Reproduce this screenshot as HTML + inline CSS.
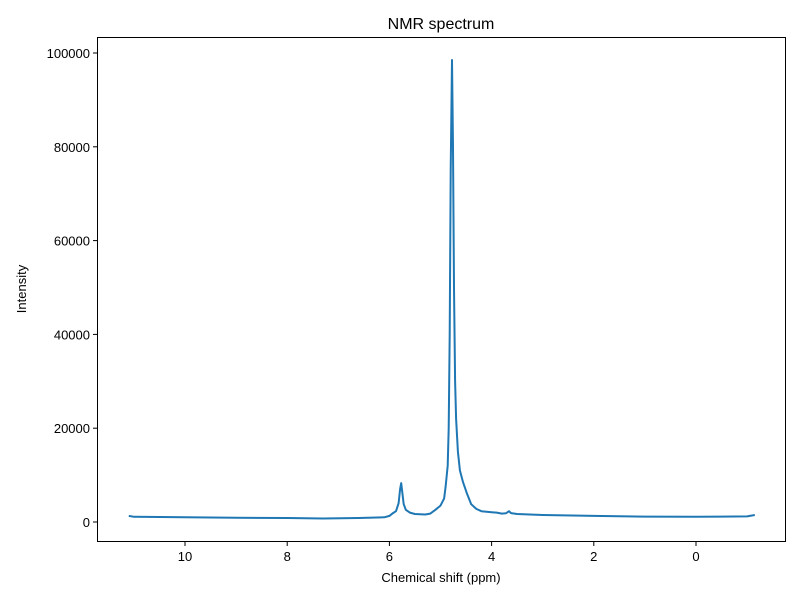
<!DOCTYPE html>
<html><head><meta charset="utf-8"><style>body{margin:0;background:#fff}svg text{font-family:"Liberation Sans","DejaVu Sans",sans-serif;fill:#000}</style></head>
<body>
<svg id="chart" width="800" height="600" xmlns="http://www.w3.org/2000/svg">
<rect width="800" height="600" fill="#fff"/>
<text x="441" y="29" font-size="16" text-anchor="middle">NMR spectrum</text>
<g id="ticks"></g>
<path id="line" fill="none" stroke="#1f77b4" stroke-width="2" stroke-linejoin="round"/>
<rect x="97.5" y="37.5" width="688" height="504" fill="none" stroke="#000" stroke-width="1"/>
<text x="441" y="582" font-size="13" text-anchor="middle">Chemical shift (ppm)</text>
<text transform="translate(26,289) rotate(-90)" font-size="13" text-anchor="middle">Intensity</text>
</svg>
<script>
const ppm=[11.1,11.0,10,9,8,7.3,6.6,6.1,6.0,5.93,5.87,5.82,5.79,5.77,5.75,5.72,5.68,5.6,5.5,5.3,5.2,5.1,5.0,4.93,4.9,4.86,4.84,4.82,4.80,4.775,4.755,4.735,4.715,4.695,4.66,4.62,4.56,4.48,4.4,4.3,4.2,4.0,3.9,3.8,3.72,3.66,3.62,3.5,3,2,1,0,-0.5,-1.0,-1.15];
const intensity=[1300,1100,1000,900,850,750,850,1000,1300,1900,2300,4000,7000,8300,6500,3800,2600,2000,1700,1600,1800,2600,3500,5000,7500,12000,20000,40000,75000,98500,80000,50000,30000,22000,15000,11000,8500,6000,3800,2800,2300,2100,2000,1800,1850,2300,1900,1700,1500,1300,1150,1100,1150,1200,1500];
const xTicks=[10,8,6,4,2,0];
const yTicks=[0,20000,40000,60000,80000,100000];
const X=v=>696-v*51.1;
const Y=v=>522-v*0.00469;
const NS="http://www.w3.org/2000/svg";
const g=document.getElementById('ticks');
function mk(t,a){const e=document.createElementNS(NS,t);for(const k in a)e.setAttribute(k,a[k]);g.appendChild(e);return e;}
xTicks.forEach(t=>{const x=X(t);
const l=mk('line',{x1:x,x2:x,y1:541.5,y2:546,stroke:'#000'});


const tx=mk('text',{x:x,y:561,'font-size':13,'text-anchor':'middle'});tx.textContent=t;

});
yTicks.forEach(t=>{const y=Y(t);
const l=mk('line',{x1:93,x2:97.5,y1:y,y2:y,stroke:'#000'});


const tx=mk('text',{x:90,y:y+5,'font-size':13,'text-anchor':'end'});tx.textContent=t;

});
document.getElementById('line').setAttribute('d',ppm.map((p,i)=>(i?'L':'M')+X(p).toFixed(1)+','+Y(intensity[i]).toFixed(1)).join(''));
</script>
</body></html>
